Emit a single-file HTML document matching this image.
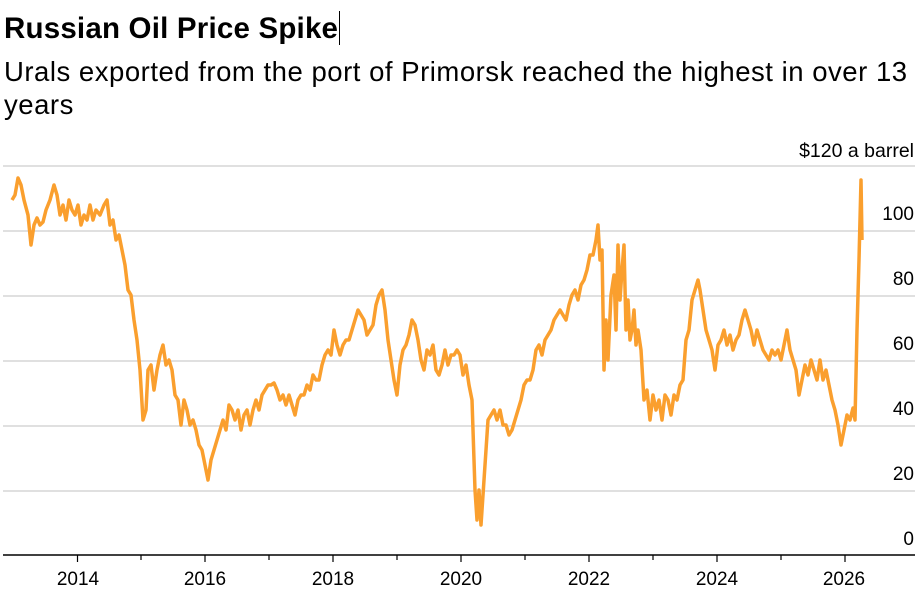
<!DOCTYPE html>
<html><head><meta charset="utf-8"><style>
body{margin:0;background:#fff;font-family:"Liberation Sans",sans-serif;color:#000}
.t{position:absolute;left:4px;top:11px;font-size:29.5px;line-height:36px;font-weight:bold;letter-spacing:0.2px}
.s{position:absolute;left:4px;top:55px;font-size:27.5px;line-height:33px;letter-spacing:0.52px}
svg{position:absolute;left:0;top:0}
</style></head><body>
<div class="t">Russian Oil Price Spike<span style="display:inline-block;width:1px;height:34px;background:#000;vertical-align:-7px;margin-left:1px"></span></div>
<div class="s">Urals exported from the port of Primorsk reached the highest in over 13<br>years</div>
<svg width="921" height="600" font-family="Liberation Sans, sans-serif">
<g stroke="#d6d6d6" stroke-width="1.5">
<line x1="3" x2="915" y1="166" y2="166"/><line x1="3" x2="915" y1="231" y2="231"/><line x1="3" x2="915" y1="296" y2="296"/><line x1="3" x2="915" y1="361" y2="361"/><line x1="3" x2="915" y1="426" y2="426"/><line x1="3" x2="915" y1="491" y2="491"/>
</g>
<g font-size="19" text-anchor="end" fill="#000">
<text x="914" y="157" font-size="19.5">$120 a barrel</text><text x="914" y="220">100</text><text x="914" y="285">80</text><text x="914" y="350">60</text><text x="914" y="415">40</text><text x="914" y="480">20</text><text x="914" y="545">0</text>
</g>
<line x1="3" x2="915" y1="555" y2="555" stroke="#000" stroke-width="1.5"/>
<g stroke="#000" stroke-width="1.2">
<line x1="77.5" x2="77.5" y1="555" y2="562"/><line x1="141" x2="141" y1="555" y2="560"/><line x1="205" x2="205" y1="555" y2="562"/><line x1="269" x2="269" y1="555" y2="560"/><line x1="333" x2="333" y1="555" y2="562"/><line x1="397" x2="397" y1="555" y2="560"/><line x1="461" x2="461" y1="555" y2="562"/><line x1="525" x2="525" y1="555" y2="560"/><line x1="589" x2="589" y1="555" y2="562"/><line x1="653" x2="653" y1="555" y2="560"/><line x1="717" x2="717" y1="555" y2="562"/><line x1="781" x2="781" y1="555" y2="560"/><line x1="845" x2="845" y1="555" y2="562"/>
</g>
<g font-size="19" text-anchor="middle">
<text x="78" y="585">2014</text><text x="205" y="585">2016</text><text x="333" y="585">2018</text><text x="461" y="585">2020</text><text x="589" y="585">2022</text><text x="717" y="585">2024</text><text x="844" y="585">2026</text>
</g>
<polyline fill="none" stroke="#fa9f2e" stroke-width="3.5" stroke-linejoin="round" points="12,200 15,195 18,178 21,185 24,200 28,215 31,245 34,225 37,218 40,225 43,222 46,210 50,200 54,185 57,195 60,215 63,205 66,220 69,200 72,210 75,215 78,205 81,225 84,215 87,220 90,205 93,220 96,210 100,215 104,205 107,200 110,225 113,220 116,240 119,235 122,250 125,265 128,290 131,295 134,320 137,340 140,370 143,420 146,410 148,370 151,365 154,390 157,370 160,355 163,345 166,365 169,360 172,370 175,395 178,400 181,425 184,400 187,410 190,425 193,420 196,430 199,445 202,450 205,465 208,480 211,460 214,450 217,440 220,430 223,420 226,430 229,405 232,410 235,420 238,410 241,430 244,415 247,410 250,425 253,410 256,400 259,410 262,395 265,390 268,385 271,385 274,383 277,390 280,400 283,395 286,405 289,395 292,405 295,415 298,400 301,395 304,395 307,385 310,390 313,375 316,380 319,380 322,365 325,355 328,350 331,355 334,330 337,345 340,355 343,345 346,340 349,340 352,330 355,320 358,310 361,315 364,320 367,335 370,330 373,325 376,305 379,295 382,290 385,310 388,340 391,360 394,380 397,395 400,365 403,350 406,345 409,335 412,320 415,325 418,340 421,360 424,370 427,350 430,355 433,345 436,370 439,375 442,365 445,350 448,365 451,355 454,355 457,350 460,355 463,375 466,365 469,385 472,400 475,490 477,520 479,490 481,525 484,480 486,450 488,420 491,415 494,410 497,420 500,410 503,425 506,425 509,435 512,430 515,420 518,410 521,400 524,385 527,380 530,380 533,370 536,350 539,345 542,355 545,340 548,335 551,330 554,320 557,315 560,310 563,315 566,320 569,305 572,295 575,290 578,300 581,285 584,280 587,270 590,255 593,255 596,240 598,225 600,260 602,250 604,370 606,320 608,360 611,295 614,275 616,330 618,245 620,300 622,270 624,245 626,330 628,300 630,340 632,330 634,310 636,345 638,330 641,350 644,400 647,390 650,420 653,395 656,410 659,400 662,420 665,395 668,400 671,415 674,395 677,400 680,385 683,380 686,340 689,330 692,300 695,290 698,280 700,290 703,310 706,330 709,340 712,350 715,370 718,345 721,340 724,330 727,345 730,335 733,350 736,340 739,335 742,320 745,310 748,320 751,330 754,345 757,330 760,340 763,350 766,355 769,360 772,350 775,355 778,350 781,360 784,345 787,330 790,350 793,360 796,370 799,395 802,380 805,365 808,375 811,360 814,370 817,380 820,360 823,380 826,370 829,385 832,400 835,410 838,425 841,445 844,430 847,415 850,420 853,408 855,420 857,330 859,260 861,180 862,240"/>
</svg>
</body></html>
